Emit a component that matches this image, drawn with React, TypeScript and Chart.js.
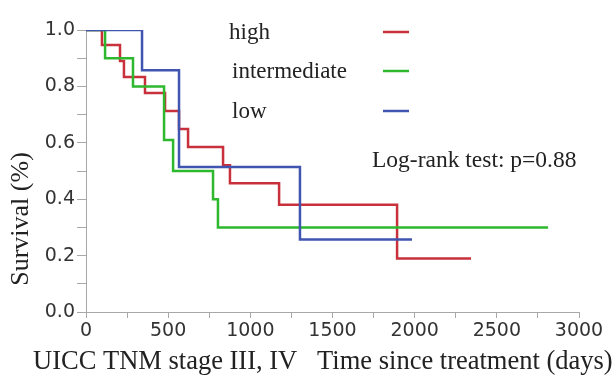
import React, { useEffect, useRef } from "react";
import { Chart, registerables } from "chart.js";

Chart.register(...registerables);

const seriesNames = ["high", "intermediate", "low"];
const seriesColors = ["#c8303c", "#2eb82e", "#3f55b0"];

const timesHigh = [0, 97, 207, 231, 359, 481, 566, 621, 834, 876, 1175, 1893, 2343];
const survHigh = [1, 0.947, 0.89, 0.833, 0.777, 0.713, 0.649, 0.585, 0.52, 0.457, 0.38, 0.19, 0.19];

const timesInter = [0, 116, 286, 475, 530, 773, 803, 2812];
const survInter = [1, 0.9, 0.8, 0.61, 0.5, 0.4, 0.3, 0.3];

const timesLow = [0, 341, 566, 1302, 1984];
const survLow = [1, 0.857, 0.514, 0.257, 0.257];

const xTitle = "UICC TNM stage III, IV   Time since treatment (days)";
const yTitle = "Survival (%)";
const testText = "Log-rank test: p=0.88";

const toPoints = (t: number[], s: number[]) => t.map((x, i) => ({ x, y: s[i] }));

export default function App() {
  const ref = useRef<HTMLCanvasElement | null>(null);
  useEffect(() => {
    document.body.style.margin = "0";
    const ctx = ref.current!.getContext("2d")!;
    const annot = {
      id: "annot",
      afterDraw(chart: any) {
        const c = chart.ctx;
        c.save();
        c.fillStyle = "#222";
        c.textBaseline = "middle";
        const legY = [33, 72, 112];
        const legX = [229, 232, 232];
        c.font = "23px 'Liberation Serif'";
        seriesNames.forEach((n, i) => {
          c.textAlign = "left";
          c.fillStyle = "#222";
          c.fillText(n, legX[i], legY[i]);
          c.strokeStyle = seriesColors[i];
          c.lineWidth = 2.5;
          c.beginPath();
          c.moveTo(383, legY[i] - 1);
          c.lineTo(409, legY[i] - 1);
          c.stroke();
        });
        c.fillStyle = "#222";
        c.font = "23.5px 'Liberation Serif'";
        c.fillText(testText, 372, 161);
        c.font = "26.5px 'Liberation Serif'";
        c.textAlign = "left";
        c.fillText(xTitle, 33, 362);
        c.translate(21, 219);
        c.rotate(-Math.PI / 2);
        c.textAlign = "center";
        c.font = "26px 'Liberation Serif'";
        c.fillText(yTitle, 0, 0);
        c.restore();
      },
    };
    const mk = (i: number, t: number[], s: number[], order: number) => ({
      label: seriesNames[i],
      data: toPoints(t, s),
      borderColor: seriesColors[i],
      borderWidth: 2.5,
      pointRadius: 0,
      stepped: "before" as const,
      fill: false,
      order,
    });
    const chart = new Chart(ctx, {
      type: "line",
      data: {
        datasets: [
          mk(0, timesHigh, survHigh, 2),
          mk(1, timesInter, survInter, 1),
          mk(2, timesLow, survLow, 0),
        ],
      },
      options: {
        animation: false,
        responsive: false,
        layout: { padding: { top: 30, right: 36, left: 0, bottom: 0 } },
        plugins: { legend: { display: false }, tooltip: { enabled: false } },
        scales: {
          x: {
            type: "linear",
            min: 0,
            max: 3000,
            afterFit: (s: any) => {
              s.height = 66;
            },
            border: { display: true, color: "#a8a8a8", width: 1 },
            grid: { display: true, drawOnChartArea: false, tickLength: 6, tickColor: "#a8a8a8" },
            ticks: {
              stepSize: 250,
              autoSkip: false,
              maxRotation: 0,
              padding: 2,
              color: "#333",
              font: { family: "'DejaVu Sans'", size: 19 },
              callback: (v: any) => (Number(v) % 500 === 0 ? String(v) : ""),
            },
          },
          y: {
            type: "linear",
            min: 0,
            max: 1,
            afterFit: (s: any) => {
              s.width = 86;
            },
            border: { display: true, color: "#a8a8a8", width: 1 },
            grid: { display: true, drawOnChartArea: false, tickLength: 9, tickColor: "#a8a8a8" },
            ticks: {
              stepSize: 0.1,
              autoSkip: false,
              padding: 2,
              color: "#333",
              font: { family: "'DejaVu Sans'", size: 19 },
              callback: (v: any) => {
                const k = Math.round(Number(v) * 10);
                return k % 2 === 0 ? (k / 10).toFixed(1) : "";
              },
            },
          },
        },
      },
      plugins: [annot],
    });
    return () => chart.destroy();
  }, []);
  return (
    <div style={{ position: "fixed", left: 0, top: 0, width: 615, height: 378, background: "#fff" }}>
      <canvas ref={ref} width={615} height={378} />
    </div>
  );
}
